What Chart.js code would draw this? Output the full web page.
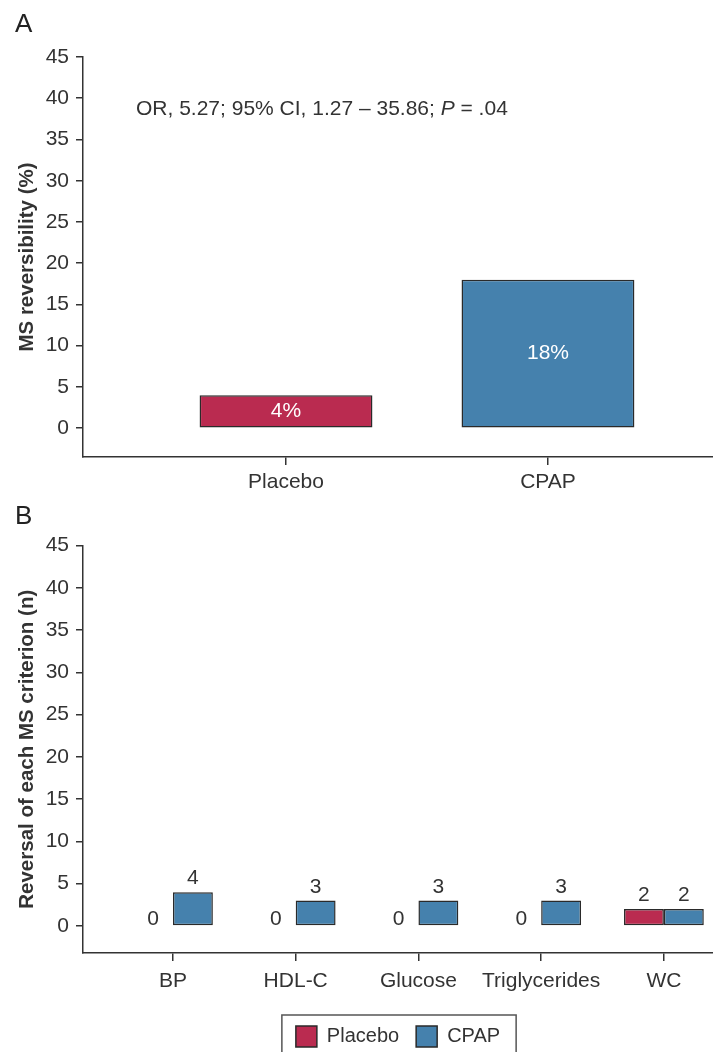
<!DOCTYPE html>
<html>
<head>
<meta charset="utf-8">
<title>MS reversibility</title>
<script src="https://cdn.jsdelivr.net/npm/chart.js@4.4.0/dist/chart.umd.min.js"></script>
<style>
  html, body { margin: 0; padding: 0; background: #fff; overflow: hidden; }
  .panel { position: absolute; left: 0; width: 713px; }
  #panelA { top: 0; height: 500px; }
  #panelB { top: 500px; height: 570px; }
</style>
</head>
<body>
<div class="panel" id="panelA"><canvas id="reversibilityChart"></canvas></div>
<div class="panel" id="panelB"><canvas id="criteriaChart"></canvas></div>
<script>
// A: MS reversibility per group (%)
const groups = ['Placebo', 'CPAP'];
const reversibility = [4, 18];

// B: reversal of each MS criterion (n)
const criteria = ['BP', 'HDL-C', 'Glucose', 'Triglycerides', 'WC'];
const placeboCounts = [0, 0, 0, 0, 2];
const cpapCounts = [4, 3, 3, 3, 2];

const yTicks = [0, 5, 10, 15, 20, 25, 30, 35, 40, 45];

const RED = '#BA2B50';
const BLUE = '#4581AD';
const EDGE = '#2a2a2a';
const INK = '#333';
const FONT = "'Liberation Sans', Arial, sans-serif";

Chart.defaults.font.family = FONT;
Chart.defaults.font.size = 21;
Chart.defaults.color = INK;

// y axis shared by both panels
function valueAxis(title, min) {
    return {
        min: min,
        max: 45,
        afterBuildTicks: s => { s.ticks = yTicks.map(v => ({ value: v })); },
        afterFit: s => { s.width = 83; },
        grid: { drawOnChartArea: false, tickLength: 7, color: INK, lineWidth: 1.5 },
        border: { color: INK, width: 1.5 },
        ticks: { padding: 7, color: INK },
        title: {
            display: true,
            text: title,
            color: INK,
            font: { size: 20.5, weight: 'bold' },
            padding: { top: 15, bottom: 0 }
        }
    };
}

// x axis: linear so the axis line can run past the last group
function groupAxis(names, min, max, height, pad) {
    return {
        type: 'linear',
        min: min,
        max: max,
        offset: false,
        afterBuildTicks: s => { s.ticks = names.map((n, i) => ({ value: i + 1 })); },
        afterFit: s => { s.height = height; },
        grid: { drawOnChartArea: false, offset: false, tickLength: 8, color: INK, lineWidth: 1.5 },
        border: { color: INK, width: 1.5 },
        ticks: { padding: pad, color: INK, autoSkip: false, maxRotation: 0, callback: v => names[v - 1] }
    };
}

const panelLetter = {
    id: 'panelLetter',
    afterDraw(chart, args, opts) {
        const ctx = chart.ctx;
        ctx.save();
        ctx.font = `26px ${FONT}`;
        ctx.fillStyle = '#222';
        ctx.textAlign = 'left';
        ctx.textBaseline = 'alphabetic';
        ctx.fillText(opts.text, opts.x, opts.y);
        ctx.restore();
    }
};

const barLabels = {
    id: 'barLabels',
    afterDatasetsDraw(chart, args, opts) {
        const ctx = chart.ctx;
        ctx.save();
        ctx.font = `21px ${FONT}`;
        ctx.textAlign = 'center';
        chart.data.datasets.forEach((ds, di) => {
            chart.getDatasetMeta(di).data.forEach((bar, i) => {
                const v = ds.data[i].y;
                if (opts.inside) {
                    ctx.fillStyle = '#fff';
                    ctx.textBaseline = 'middle';
                    ctx.fillText(v + '%', bar.x, (bar.y + bar.base) / 2);
                } else {
                    ctx.fillStyle = INK;
                    ctx.textBaseline = 'alphabetic';
                    ctx.fillText(String(v), bar.x, v === 0 ? bar.y - 1 : bar.y - 8);
                }
            });
        });
        ctx.restore();
    }
};

const statsNote = {
    id: 'statsNote',
    afterDraw(chart, args, opts) {
        const ctx = chart.ctx;
        let x = chart.chartArea.left + opts.dx;
        const y = chart.chartArea.top + opts.dy;
        ctx.save();
        ctx.fillStyle = INK;
        ctx.textAlign = 'left';
        ctx.textBaseline = 'alphabetic';
        opts.parts.forEach(([text, italic]) => {
            ctx.font = `${italic ? 'italic ' : ''}21px ${FONT}`;
            ctx.fillText(text, x, y);
            x += ctx.measureText(text).width;
        });
        ctx.restore();
    }
};

// frame around the legend items
const legendFrame = {
    id: 'legendFrame',
    afterDraw(chart) {
        const lg = chart.legend;
        if (!lg || !lg.lineWidths) return;
        const pad = lg.options.labels.padding;
        const startX = (lg.left + pad + lg.right - lg.lineWidths[0]) / 2;
        const endX = startX + lg.lineWidths[0] - pad;
        const itemTop = lg.top + pad;
        const ctx = chart.ctx;
        ctx.save();
        ctx.strokeStyle = '#555';
        ctx.lineWidth = 1.5;
        ctx.strokeRect(startX - 14, itemTop - 11, endX - startX + 30, 43);
        ctx.restore();
    }
};

const barStyle = {
    borderColor: EDGE,
    borderWidth: 1.5,
    borderSkipped: false,
    barPercentage: 1
};

// Panel A
new Chart(document.getElementById('reversibilityChart').getContext('2d'), {
    type: 'bar',
    data: {
        datasets: [{
            label: 'MS reversibility',
            data: reversibility.map((v, i) => ({ x: i + 1, y: v })),
            backgroundColor: [RED, BLUE],
            categoryPercentage: 0.66,
            ...barStyle
        }]
    },
    options: {
        responsive: true,
        maintainAspectRatio: false,
        animation: false,
        layout: { padding: { top: 57, right: 0, bottom: 0, left: 0 } },
        scales: {
            x: groupAxis(groups, 0.225, 2.63, 43, 5),
            y: valueAxis('MS reversibility (%)', -3.5)
        },
        plugins: {
            legend: { display: false },
            tooltip: { enabled: false },
            barLabels: { inside: true },
            panelLetter: { text: 'A', x: 15, y: 32 },
            statsNote: {
                dx: 53,
                dy: 58,
                parts: [['OR, 5.27; 95% CI, 1.27 \u2013 35.86; ', false], ['P', true], [' = .04', false]]
            }
        }
    },
    plugins: [barLabels, panelLetter, statsNote]
});

// Panel B
new Chart(document.getElementById('criteriaChart').getContext('2d'), {
    type: 'bar',
    data: {
        datasets: [{
            label: 'Placebo',
            data: placeboCounts.map((v, i) => ({ x: i + 1, y: v })),
            backgroundColor: RED,
            categoryPercentage: 0.65,
            ...barStyle
        }, {
            label: 'CPAP',
            data: cpapCounts.map((v, i) => ({ x: i + 1, y: v })),
            backgroundColor: BLUE,
            categoryPercentage: 0.65,
            ...barStyle
        }]
    },
    options: {
        responsive: true,
        maintainAspectRatio: false,
        animation: false,
        layout: { padding: { top: 45.5, right: 0, bottom: 13, left: 0 } },
        scales: {
            x: groupAxis(criteria, 0.267, 5.4, 56, 8),
            y: valueAxis('Reversal of each MS criterion (n)', -3.2)
        },
        plugins: {
            legend: {
                position: 'bottom',
                fullSize: false,
                labels: { boxWidth: 21, boxHeight: 21, padding: 17, color: INK, font: { size: 20 } }
            },
            tooltip: { enabled: false },
            barLabels: { inside: false },
            panelLetter: { text: 'B', x: 15, y: 24 }
        }
    },
    plugins: [barLabels, panelLetter, legendFrame]
});
</script>
</body>
</html>
